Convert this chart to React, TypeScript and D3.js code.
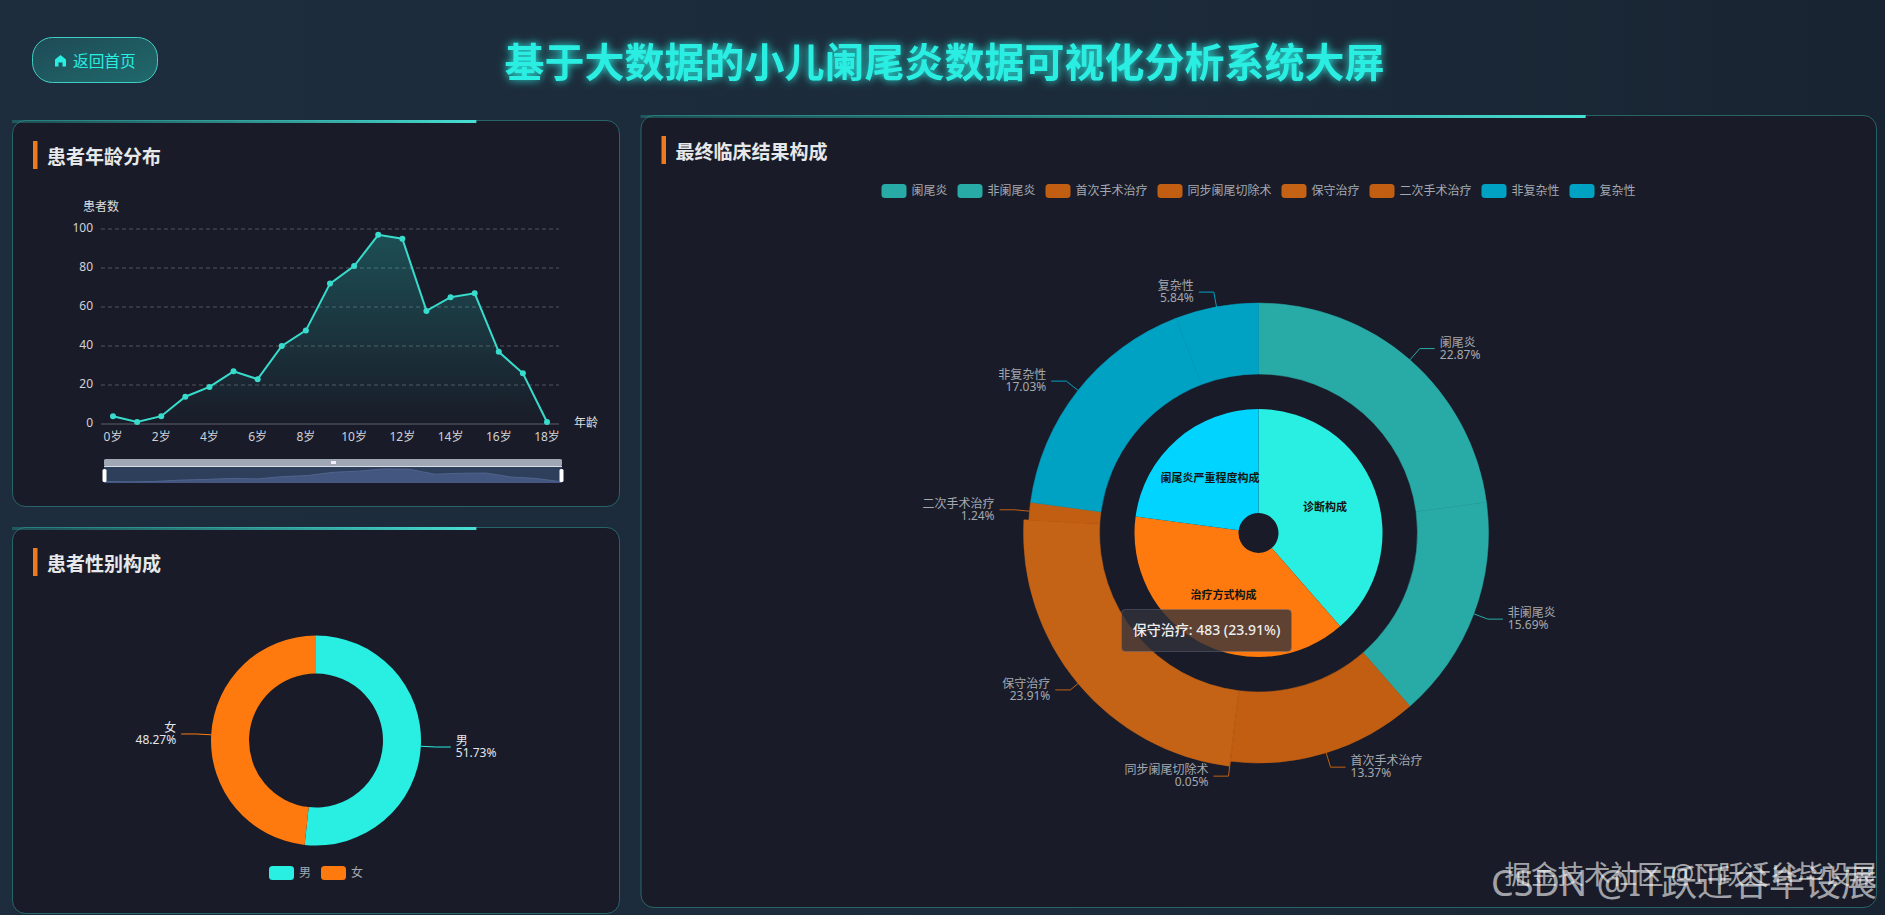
import React from 'react';
import * as d3 from 'd3';

const ageLabels = ['0岁','1岁','2岁','3岁','4岁','5岁','6岁','7岁','8岁','9岁','10岁','11岁','12岁','13岁','14岁','15岁','16岁','17岁','18岁'];
const ageCounts = [4,1,4,14,19,27,23,40,48,72,81,97,95,58,65,67,37,26,1];
const yTicks = [0,20,40,60,80,100];
const genderNames = ['男','女'];
const genderValues = [1045,975];
const genderColors = ['#29eee2','#ff7a0e'];
const outcomeNames = ['阑尾炎','非阑尾炎','首次手术治疗','同步阑尾切除术','保守治疗','二次手术治疗','非复杂性','复杂性'];
const outcomeValues = [462,317,270,1,483,25,344,118];
const outcomeColors = ['#28aaa6','#28aaa6','#c25e12','#c25e12','#c46216','#c25e12','#00a2c4','#00a2c4'];
const groupNames = ['诊断构成','治疗方式构成','阑尾炎严重程度构成'];
const groupValues = [779,779,462];
const groupColors = ['#29eee2','#ff7a0e','#00d4ff'];
const highlighted = '保守治疗';

const FONT = '"Noto Sans","Noto Sans CJK SC",sans-serif';
const CJK = '"Noto Sans CJK SC","Noto Sans",sans-serif';
const TEAL = '#29eee2';
const TOTAL = d3.sum(outcomeValues);

const pct = (v: number) => ((v / TOTAL) * 100).toFixed(2) + '%';

function Card({ x, y, w, h, title }: { x: number; y: number; w: number; h: number; title: string }) {
  return (
    <g>
      <rect x={x + 0.5} y={y + 0.5} width={w} height={h} rx={13} fill="#191c28" stroke="rgba(58,190,180,0.42)" />
      <rect x={x} y={y} width={w * 0.765} height={3} fill="url(#topBar)" />
      <rect x={x + 21} y={y + 21} width={4.5} height={28} fill="#ee7a1e" />
      <text x={x + 35} y={y + 35} fontFamily={CJK} fontSize={19} fontWeight={700} fill="#e6e8ea" dominantBaseline="central">{title}</text>
    </g>
  );
}

function Labels({ cx, cy, R, names, values, colors, color, fs }: any) {
  const arcs = d3.pie<number>().sort(null).value((d) => d)(values);
  return (
    <g fontSize={fs}>
      {arcs.map((a, i) => {
        const mid = (a.startAngle + a.endAngle) / 2;
        const s = Math.sin(mid), c = -Math.cos(mid);
        const right = s >= 0;
        const ex = cx + (R + 15) * s, ey = cy + (R + 15) * c;
        const hx = ex + (right ? 15 : -15);
        const tx = hx + (right ? 5 : -5);
        return (
          <g key={names[i]}>
            <polyline points={`${cx + R * s},${cy + R * c} ${ex},${ey} ${hx},${ey}`} fill="none" stroke={colors[i]} strokeWidth={1} />
            <text x={tx} y={ey - 6.5} textAnchor={right ? 'start' : 'end'} fill={color} dominantBaseline="central">{names[i]}</text>
            <text x={tx} y={ey + 5.5} textAnchor={right ? 'start' : 'end'} fill={color} dominantBaseline="central">{pct(values[i])}</text>
          </g>
        );
      })}
    </g>
  );
}

function Legend({ cx, y, names, colors }: any) {
  const widths = names.map((n: string) => 25 + 5 + n.length * 12);
  const total = d3.sum(widths) + 10 * (names.length - 1);
  let x = cx - total / 2;
  return (
    <g fontSize={12}>
      {names.map((n: string, i: number) => {
        const x0 = x;
        x += widths[i] + 10;
        return (
          <g key={n}>
            <rect x={x0} y={y - 7} width={25} height={14} rx={3.5} fill={colors[i]} />
            <text x={x0 + 30} y={y - 0.5} fill="#a4a8b0" dominantBaseline="central">{n}</text>
          </g>
        );
      })}
    </g>
  );
}

export default function App() {
  // line chart
  const xBand = d3.scalePoint<string>().domain(ageLabels).range([113, 547]);
  const yLin = d3.scaleLinear().domain([0, 100]).range([424, 229]);
  const line = d3.line<number>().x((_, i) => xBand(ageLabels[i])!).y((d) => yLin(d));
  const area = d3.area<number>().x((_, i) => xBand(ageLabels[i])!).y0(yLin(0)).y1((d) => yLin(d));

  // data zoom preview
  const xZoom = d3.scalePoint<string>().domain(ageLabels).range([104, 562]);
  const yZoom = d3.scaleLinear().domain([0, 97]).range([482, 469]);
  const zoomArea = d3.area<number>().x((_, i) => xZoom(ageLabels[i])!).y0(483).y1((d) => yZoom(d));
  const zoomLine = d3.line<number>().x((_, i) => xZoom(ageLabels[i])!).y((d) => yZoom(d));

  // gender donut
  const gCx = 316, gCy = 740.5, gR = 105, gr = 67;
  const gArc = d3.arc<any>().innerRadius(gr).outerRadius(gR);
  const gPie = d3.pie<number>().sort(null).value((d) => d)(genderValues);

  // outcome pies
  const oCx = 1258.5, oCy = 533, oR = 230, or = 159, hR = 235;
  const oPie = d3.pie<number>().sort(null).value((d) => d)(outcomeValues);
  const oArc = d3.arc<any>().innerRadius(or);
  const iPie = d3.pie<number>().sort(null).value((d) => d)(groupValues);
  const iArc = d3.arc<any>().innerRadius(20).outerRadius(124);

  const hi = outcomeNames.indexOf(highlighted);

  return (
    <svg width={1885} height={915} style={{ position: 'fixed', left: 0, top: 0, display: 'block' }} fontFamily={FONT}>
      <defs>
        <linearGradient id="page" x1="0" y1="0" x2="1" y2="0">
          <stop offset="0" stopColor="#1d2d3d" />
          <stop offset="0.55" stopColor="#1c2b3a" />
          <stop offset="1" stopColor="#182432" />
        </linearGradient>
        <linearGradient id="topBar" x1="0" y1="0" x2="1" y2="0">
          <stop offset="0" stopColor="#29a8a0" stopOpacity="0.35" />
          <stop offset="1" stopColor="#48e0d4" />
        </linearGradient>
        <linearGradient id="btn" x1="0" y1="0" x2="1" y2="1">
          <stop offset="0" stopColor="#1f4a55" />
          <stop offset="1" stopColor="#1f6a6c" />
        </linearGradient>
        <linearGradient id="ageArea" x1="0" y1="0" x2="0" y2="1">
          <stop offset="0" stopColor={TEAL} stopOpacity="0.24" />
          <stop offset="1" stopColor={TEAL} stopOpacity="0" />
        </linearGradient>
        <filter id="glow" x="-10%" y="-60%" width="120%" height="220%">
          <feGaussianBlur stdDeviation="4" result="b" />
          <feMerge>
            <feMergeNode in="b" />
            <feMergeNode in="SourceGraphic" />
          </feMerge>
        </filter>
      </defs>

      <rect width={1885} height={915} fill="url(#page)" />

      {/* header */}
      <rect x={32.5} y={37.5} width={125} height={45} rx={20} fill="url(#btn)" stroke="#3fcfc4" />
      <path d="M60.5 55 L66 59.5 V66.5 H62.5 V62.5 H58.5 V66.5 H55 V59.5 Z" fill={TEAL} />
      <text x={73} y={60} fontFamily={CJK} fontSize={15.7} fill={TEAL} dominantBaseline="central">返回首页</text>
      <text x={944.5} y={59.5} fontFamily={CJK} fontSize={40} fontWeight={700} fill={TEAL} textAnchor="middle" dominantBaseline="central" filter="url(#glow)">基于大数据的小儿阑尾炎数据可视化分析系统大屏</text>

      {/* age distribution */}
      <Card x={12} y={120} w={607} h={386} title="患者年龄分布" />
      <text x={101} y={206} fontSize={12} fill="#ddd" textAnchor="middle" dominantBaseline="central">患者数</text>
      {yTicks.map((t) => (
        <g key={t}>
          {t > 0 ? (
            <line x1={101} x2={559} y1={yLin(t)} y2={yLin(t)} stroke="rgba(255,255,255,0.25)" strokeDasharray="4 3" />
          ) : (
            <line x1={101} x2={559} y1={yLin(t)} y2={yLin(t)} stroke="rgba(255,255,255,0.3)" />
          )}
          <text x={93} y={yLin(t) - 2} fontSize={12} fill="#d0d2da" textAnchor="end" dominantBaseline="central">{t}</text>
        </g>
      ))}
      {ageLabels.map((l, i) =>
        i % 2 === 0 ? (
          <text key={l} x={xBand(l)} y={436} fontSize={12} fill="#d0d2da" textAnchor="middle" dominantBaseline="central">{l}</text>
        ) : null
      )}
      <text x={574} y={422} fontSize={12} fill="#ddd" dominantBaseline="central">年龄</text>
      <path d={area(ageCounts)!} fill="url(#ageArea)" />
      <path d={line(ageCounts)!} fill="none" stroke="#38dccc" strokeWidth={2} />
      {ageCounts.map((v, i) => (
        <circle key={i} cx={xBand(ageLabels[i])} cy={yLin(v)} r={3} fill="#38dccc" />
      ))}
      {/* data zoom */}
      <rect x={104} y={459} width={458} height={7} rx={1.5} fill="#a0a8b6" />
      <rect x={104} y={466} width={458} height={17} fill="#2e3f5c" />
      <path d={zoomArea(ageCounts)!} fill="#43567f" />
      <path d={zoomLine(ageCounts)!} fill="none" stroke="#50638c" />
      <line x1={104} x2={562} y1={466.5} y2={466.5} stroke="#d8dde6" strokeWidth={1} />
      <rect x={331} y={461} width={5} height={3} fill="#eef" />
      <rect x={102.5} y={469} width={4} height={13} rx={1.5} fill="#fff" />
      <rect x={559.5} y={469} width={4} height={13} rx={1.5} fill="#fff" />

      {/* gender */}
      <Card x={12} y={527} w={607} h={386} title="患者性别构成" />
      {gPie.map((a, i) => (
        <path key={i} transform={`translate(${gCx},${gCy})`} d={gArc(a)!} fill={genderColors[i]} />
      ))}
      <Labels cx={gCx} cy={gCy} R={gR} names={genderNames} values={genderValues} colors={genderColors} color="#e4e6ea" fs={12} />
      <Legend cx={gCx} y={873} names={genderNames} colors={genderColors} />

      {/* outcomes */}
      <Card x={640.5} y={115} w={1235.5} h={792} title="最终临床结果构成" />
      <Legend cx={oCx} y={191} names={outcomeNames} colors={outcomeColors} />
      {oPie.map((a, i) => (
        <path key={i} transform={`translate(${oCx},${oCy})`} d={oArc.outerRadius(i === hi ? hR : oR)(a)!} fill={outcomeColors[i]} stroke={outcomeColors[i]} strokeWidth={0.5} />
      ))}
      {iPie.map((a, i) => (
        <g key={i} transform={`translate(${oCx},${oCy})`}>
          <path d={iArc(a)!} fill={groupColors[i]} />
        </g>
      ))}
      {iPie.map((a, i) => {
        const [tx, ty] = iArc.centroid(a);
        return (
          <text key={i} x={oCx + tx - 1} y={oCy + ty - 2} fontFamily={CJK} fontSize={11} fontWeight={700} fill="#141414" textAnchor="middle" dominantBaseline="central">{groupNames[i]}</text>
        );
      })}
      <Labels cx={oCx} cy={oCy} R={oR} names={outcomeNames} values={outcomeValues} colors={outcomeColors} color="#a4a8b0" fs={12} />

      {/* tooltip */}
      <rect x={1121.5} y={609.5} width={170} height={42} rx={4} fill="rgba(50,50,60,0.78)" stroke="rgba(120,130,150,0.35)" />
      <text x={1206.5} y={629.5} fontSize={14} fontWeight={500} fill="#eceef0" textAnchor="middle" dominantBaseline="central">
        {`${highlighted}: ${outcomeValues[hi]} (${pct(outcomeValues[hi])})`}
      </text>

      {/* watermark */}
      <g fill="rgba(255,255,255,0.62)" textAnchor="end" dominantBaseline="central">
        <text x={1877} y={882} fontSize={36}>CSDN @IT跃迁谷毕设展</text>
        <text x={1877} y={874} fontSize={26.5}>掘金技术社区 @IT跃迁谷毕设展</text>
      </g>
    </svg>
  );
}
